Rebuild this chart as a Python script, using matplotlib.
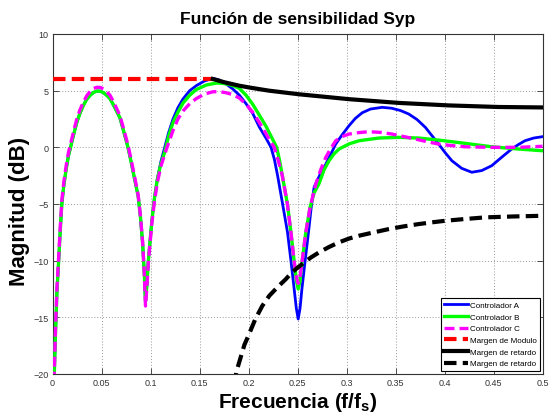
import matplotlib
matplotlib.use("Agg")
import matplotlib.pyplot as plt

plt.rcParams['font.family'] = ['Liberation Sans', 'DejaVu Sans']
plt.rcParams['mathtext.fontset'] = 'custom'
plt.rcParams['mathtext.rm'] = 'Liberation Sans'
plt.rcParams['mathtext.bf'] = 'Liberation Sans:bold'

# ---- data ----
x_A = [0.0012, 0.002, 0.003, 0.0045, 0.0064, 0.008, 0.0096, 0.0115, 0.0138, 0.0163, 0.0187, 0.0215,
       0.0248, 0.028, 0.0315, 0.035, 0.0385, 0.042, 0.0455, 0.049, 0.0525, 0.0558, 0.0586, 0.0615,
       0.0645, 0.0688, 0.073, 0.077, 0.0805, 0.084, 0.0874, 0.0898, 0.0919, 0.0935, 0.0949, 0.0962,
       0.0978, 0.0995, 0.1015, 0.104, 0.107, 0.1105, 0.1145, 0.1185, 0.123, 0.128, 0.1331, 0.14,
       0.1467, 0.155, 0.1636, 0.17, 0.177, 0.184, 0.1907, 0.1975, 0.2043, 0.211, 0.2179, 0.223,
       0.2265, 0.2297, 0.2348, 0.2398, 0.2433, 0.2466, 0.2488, 0.2507, 0.2526, 0.2545, 0.2578, 0.2612,
       0.264, 0.267, 0.273, 0.279, 0.284, 0.289, 0.2955, 0.3025, 0.309, 0.316, 0.3245, 0.3364,
       0.346, 0.355, 0.3635, 0.372, 0.3805, 0.387, 0.394, 0.4005, 0.4075, 0.4175, 0.4278, 0.438,
       0.4482, 0.458, 0.4685, 0.4755, 0.4821, 0.491, 0.5]
y_A = [-22, -19.5, -16.5, -12.8, -9.8, -7.2, -4.9, -3.4, -2.0, -0.75, 0.1, 1.1,
       2.2, 3.0, 3.7, 4.25, 4.6, 4.85, 4.97, 4.95, 4.8, 4.55, 4.3, 3.85,
       3.35, 2.6, 1.3, 0, -1.4, -2.9, -4.3, -6.2, -8.4, -10.8, -13.8, -12.3,
       -10.0, -8.3, -6.4, -4.5, -2.8, -1.3, 0, 1.3, 2.5, 3.5, 4.26, 5.0,
       5.44, 5.85, 6.09, 5.95, 5.6, 5.15, 4.6, 3.85, 3.0, 1.8, 0.8, 0,
       -1.1, -2.5, -5.0, -7.5, -10.0, -12.5, -14.2, -15.15, -14.2, -12.5, -10.0, -7.5,
       -5.3, -3.5, -2.4, -1.47, -0.6, 0.29, 1.1, 1.9, 2.55, 3.05, 3.38, 3.53,
       3.45, 3.25, 2.94, 2.45, 1.76, 1.05, 0.29, -0.45, -1.18, -1.85, -2.2, -2.05,
       -1.62, -0.9, -0.15, 0.25, 0.58, 0.82, 0.94]

x_B = [0.0012, 0.002, 0.003, 0.0045, 0.0064, 0.008, 0.0096, 0.0115, 0.0138, 0.0163, 0.0187, 0.0215,
       0.0248, 0.028, 0.0315, 0.035, 0.0385, 0.042, 0.0455, 0.049, 0.0525, 0.0558, 0.0586, 0.0615,
       0.0645, 0.0688, 0.073, 0.077, 0.0805, 0.084, 0.0874, 0.0898, 0.0919, 0.0935, 0.0949, 0.0962,
       0.0978, 0.0995, 0.1015, 0.104, 0.107, 0.1105, 0.1145, 0.1185, 0.123, 0.128, 0.1331, 0.14,
       0.1467, 0.157, 0.167, 0.1735, 0.18, 0.1855, 0.1907, 0.1975, 0.2043, 0.211, 0.2179, 0.2235,
       0.2287, 0.2318, 0.2345, 0.2397, 0.2433, 0.2465, 0.249, 0.2507, 0.2525, 0.2548, 0.2585, 0.2628,
       0.267, 0.272, 0.277, 0.2822, 0.287, 0.2924, 0.3025, 0.3127, 0.333, 0.3533, 0.3737, 0.394,
       0.4211, 0.4482, 0.4753, 0.5]
y_B = [-22, -19.5, -16.5, -12.8, -9.8, -7.2, -4.9, -3.4, -2.0, -0.75, 0.1, 1.1,
       2.2, 3.0, 3.7, 4.25, 4.6, 4.85, 4.97, 4.95, 4.8, 4.55, 4.3, 3.85,
       3.35, 2.6, 1.3, 0, -1.4, -2.9, -4.3, -6.2, -8.4, -10.8, -13.6, -12.2,
       -10.0, -8.3, -6.4, -4.5, -2.8, -1.5, -0.4, 1.0, 2.2, 3.1, 3.9, 4.6,
       5.1, 5.5, 5.67, 5.65, 5.55, 5.4, 5.2, 4.6, 3.8, 2.85, 1.85, 0.9,
       0, -1.2, -2.5, -5.0, -7.5, -10.0, -11.8, -12.5, -11.8, -10.0, -7.5, -5.3,
       -4.0, -3.2, -2.0, -1.18, -0.6, -0.15, 0.3, 0.58, 0.82, 0.88, 0.82, 0.64,
       0.35, 0.05, -0.15, -0.3]

x_C = [0.0012, 0.002, 0.003, 0.0045, 0.0064, 0.008, 0.0096, 0.0115, 0.0138, 0.0163, 0.0187, 0.0215,
       0.0248, 0.028, 0.0315, 0.035, 0.0385, 0.042, 0.0455, 0.049, 0.0525, 0.0558, 0.0586, 0.0615,
       0.0645, 0.0688, 0.073, 0.077, 0.0805, 0.084, 0.0874, 0.0898, 0.0919, 0.0935, 0.0949, 0.0962,
       0.0978, 0.0995, 0.1015, 0.104, 0.107, 0.1105, 0.1145, 0.1169, 0.123, 0.128, 0.1331, 0.14,
       0.1467, 0.155, 0.1636, 0.17, 0.177, 0.184, 0.1907, 0.1975, 0.2043, 0.211, 0.2179, 0.2225,
       0.2263, 0.2305, 0.2345, 0.2397, 0.2433, 0.2465, 0.249, 0.2507, 0.2525, 0.2548, 0.2585, 0.2628,
       0.2687, 0.274, 0.2789, 0.284, 0.289, 0.2955, 0.3025, 0.3125, 0.3228, 0.3345, 0.3465, 0.3585,
       0.3703, 0.382, 0.394, 0.4075, 0.4211, 0.4482, 0.4753, 0.5]
y_C = [-22, -19.3, -16.2, -12.5, -9.5, -6.9, -4.6, -3.1, -1.7, -0.45, 0.4, 1.4,
       2.5, 3.3, 4.0, 4.55, 4.95, 5.2, 5.3, 5.28, 5.12, 4.85, 4.6, 4.15,
       3.6, 2.8, 1.5, 0.2, -1.2, -2.7, -4.2, -6.1, -8.3, -10.8, -14.0, -12.5,
       -10.2, -8.5, -6.6, -4.8, -3.1, -1.7, -0.6, 0, 1.5, 2.5, 3.2, 3.85,
       4.3, 4.7, 4.9, 4.92, 4.82, 4.65, 4.35, 3.8, 3.1, 2.2, 1.2, 0.5,
       0, -1.2, -2.5, -5.0, -7.5, -10.0, -11.5, -12.0, -11.5, -10.0, -7.5, -5.3,
       -3.24, -1.9, -0.88, -0.1, 0.58, 0.95, 1.17, 1.3, 1.38, 1.32, 1.17, 0.95,
       0.73, 0.5, 0.29, 0.15, 0.05, 0.0, 0.0, 0.09]

x_mod = [0.0, 0.1636]
y_mod = [6.0, 6.0]

x_ret_sup = [0.1636, 0.175, 0.19, 0.2007, 0.2209, 0.2517, 0.3025, 0.3533, 0.404, 0.455, 0.5]
y_ret_sup = [6.03, 5.75, 5.45, 5.28, 5.0, 4.68, 4.25, 3.92, 3.7, 3.56, 3.52]

x_ret_inf = [0.1855, 0.1877, 0.1958, 0.2, 0.207, 0.214, 0.2212, 0.23, 0.2382, 0.2425, 0.2484, 0.2568,
             0.264, 0.272, 0.282, 0.2924, 0.3025, 0.3127, 0.328, 0.3432, 0.358, 0.3737, 0.387,
             0.4008, 0.42, 0.4415, 0.47, 0.5]
y_ret_inf = [-21.0, -19.78, -17.43, -16.6, -15.15, -14.0, -13.1, -12.3, -11.62, -11.2, -10.74, -10.15,
             -9.7, -9.27, -8.8, -8.38, -8.05, -7.8, -7.5, -7.21, -6.98, -6.77, -6.62,
             -6.48, -6.33, -6.18, -6.1, -6.04]

labels = ["Controlador A", "Controlador B", "Controlador C",
          "Margen de Modulo", "Margen de retardo", "Margen de retardo"]
x_ticks = [0, 0.05, 0.1, 0.15, 0.2, 0.25, 0.3, 0.35, 0.4, 0.45, 0.5]
x_ticklabels = ["0", "0.05", "0.1", "0.15", "0.2", "0.25", "0.3", "0.35", "0.4", "0.45", "0.5"]
y_ticks = [-20, -15, -10, -5, 0, 5, 10]

# ---- figure ----
W, H = 549, 414
fig = plt.figure(figsize=(W / 100, H / 100), dpi=100)
left, right, top, bottom = 52.5, 542.5, 35, 375
ax = fig.add_axes([left / W, (H - bottom) / H, (right - left) / W, (bottom - top) / H])

ax.plot(x_A, y_A, color="#0000ff", lw=2.0, label=labels[0], zorder=3)
ax.plot(x_B, y_B, color="#00ff00", lw=2.4, label=labels[1], zorder=4)
ax.plot(x_C, y_C, color="#ff00ff", lw=2.4, ls=(0, (3, 1.5)), label=labels[2], zorder=5)
ax.plot(x_mod, y_mod, color="#ff0000", lw=3.0, ls=(0, (3, 1.5)), label=labels[3], zorder=6)
ax.plot(x_ret_sup, y_ret_sup, color="black", lw=3.0, label=labels[4], zorder=6)
ax.plot(x_ret_inf, y_ret_inf, color="black", lw=3.0, ls=(0, (3, 1.5)), label=labels[5], zorder=6)

ax.set_xlim(0, 0.5)
ax.set_ylim(-20, 10)
ax.set_xticks(x_ticks)
ax.set_xticklabels(x_ticklabels)
ax.set_yticks(y_ticks)
ax.grid(True, ls=(0, (1, 2)), color="#999999", lw=0.7)
ax.tick_params(direction="in", top=True, right=True, labelsize=6.5, colors="#333333",
               length=4, width=0.6, pad=3)
for s in ax.spines.values():
    s.set_color("#333333")
    s.set_linewidth(0.8)

ax.set_title("Función de sensibilidad Syp", fontsize=12.5, fontweight="bold", pad=8)
ax.set_xlabel(r"Frecuencia (f/f$_\mathbf{s}$)", fontsize=15, fontweight="bold", labelpad=2)
ax.set_ylabel("Magnitud (dB)", fontsize=16, fontweight="bold")
ax.yaxis.set_label_coords(-0.046, 0.48)

leg = ax.legend(loc="lower right", bbox_to_anchor=(0.995, 0.01), borderaxespad=0,
                fontsize=5.8, labelspacing=0.5, handlelength=3.0, handletextpad=0.2,
                fancybox=False, framealpha=1, edgecolor="black", borderpad=0.4)
leg.get_frame().set_linewidth(0.8)

fig.savefig("out.png", dpi=100)
